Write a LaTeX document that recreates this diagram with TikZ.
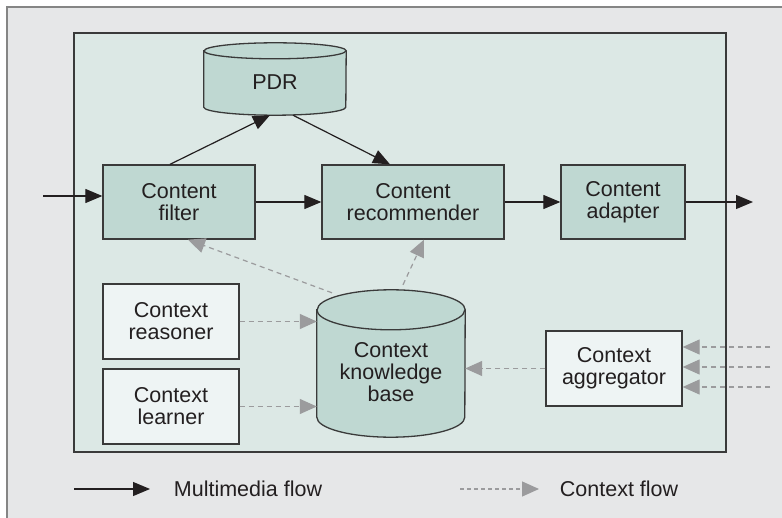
\documentclass[tikz,border=0pt]{standalone}
\usepackage{fontspec}
\setmainfont{Liberation Sans}
\usepackage{tikz}
\usetikzlibrary{arrows.meta,positioning}
\definecolor{grisFond}{HTML}{E6E7E8}
\definecolor{grisCadre}{HTML}{858585}
\definecolor{vertPanneau}{HTML}{DCE8E5}
\definecolor{vertBoite}{HTML}{BFD8D2}
\definecolor{blancBoite}{HTML}{EEF4F4}
\definecolor{bordSombre}{HTML}{3A3A3A}
\definecolor{noirTrait}{HTML}{231F20}
\definecolor{grisFleche}{HTML}{9B9B9D}

% cylindre dessine autour d'un noeud rectangulaire : #1 noeud, #2 demi-largeur, #3 rayon vertical
\newcommand{\cylindre}[3]{%
  \draw[fill=vertBoite, draw=bordSombre, line width=1.3pt]
    ([yshift=-#3]#1.north west) -- ([yshift=#3]#1.south west)
    arc[start angle=180, end angle=360, x radius=#2, y radius=#3]
    -- ([yshift=-#3]#1.north east)
    arc[start angle=0, end angle=180, x radius=#2, y radius=#3] -- cycle;
  \draw[bordSombre, line width=1.3pt] ([yshift=-#3]#1.north west)
    arc[start angle=180, end angle=360, x radius=#2, y radius=#3];
}

\tikzset{
  boite/.style={draw=bordSombre, line width=1.3pt, fill=vertBoite, align=center,
                inner sep=0pt, minimum height=74pt, text=noirTrait},
  boiteCtx/.style={boite, fill=blancBoite, minimum width=136pt, minimum height=75pt},
  base/.style={inner sep=0pt},
  texteBase/.style={align=center, text=noirTrait, inner sep=0pt},
  flux/.style={-{Triangle[length=17pt,width=14pt]}, line width=1.2pt, draw=noirTrait},
  fluxCtx/.style={-{Triangle[length=17pt,width=15pt]}, line width=1.2pt, draw=grisFleche,
                  dash pattern=on 5pt off 4pt}
}

\begin{document}
\begin{tikzpicture}[x=1pt, y=-1pt, font=\fontsize{21.5}{22}\selectfont]

\useasboundingbox (0,0) rectangle (782,518);
\clip (0,0) rectangle (782,518);

% fond et panneau
\draw[fill=grisFond, draw=grisCadre, line width=2pt] (7,7) rectangle (800,540);
\draw[fill=vertPanneau, draw=bordSombre, line width=1.5pt] (74,33) rectangle (726,452);

% chaine multimedia
\node[base, minimum width=142pt, minimum height=72pt] (pdr) at (275,79) {};
\cylindre{pdr}{71pt}{8pt}
\node[texteBase, yshift=-3pt] at (pdr.center) {PDR};
\node[boite, minimum width=152pt] (filtre) at (179,202) {Content\\filter};
\node[boite, minimum width=182pt] (recom) at (413,202) {Content\\recommender};
\node[boite, minimum width=124pt] (adapt) at (623,202) {Content\\adapter};

% contexte
\node[boiteCtx] (raison) at (171,321.5) {Context\\reasoner};
\node[boiteCtx] (appr) at (171,406.5) {Context\\learner};
\node[base, minimum width=148pt, minimum height=147pt] (kb) at (391,363.5) {};
\cylindre{kb}{74pt}{20pt}
\node[texteBase, yshift=-9pt] at (kb.center) {Context\\knowledge\\base};
\node[boiteCtx] (agreg) at (614,368.5) {Context\\aggregator};

\coordinate (entree) at (43,196);
\coordinate (sortie) at (753,203);
\coordinate (bord) at (770,0);

\draw[flux] (entree) -- (entree -| filtre.west);
\draw[flux] (filtre) -- (recom);
\draw[flux] (recom) -- (adapt);
\draw[flux] (adapt.east) -- (adapt.east -| sortie);
\draw[flux] ([xshift=-9pt]filtre.north) -- ([xshift=-5pt]pdr.south);
\draw[flux] ([xshift=18pt]pdr.south) -- ([xshift=-23pt]recom.north);

\draw[fluxCtx] (raison.east) -- (raison.east -| kb.west);
\draw[fluxCtx] (appr.east) -- (appr.east -| kb.west);
\draw[fluxCtx] (agreg.west) -- (agreg.west -| kb.east);
\draw[fluxCtx] ([shift={(-59pt,-3pt)}]kb.north) -- ([xshift=9pt]filtre.south);
\draw[fluxCtx] ([shift={(12pt,5pt)}]kb.north) -- ([xshift=11pt]recom.south);
\foreach \dy in {21.5,1.5,-18.5}
  \draw[fluxCtx] ([yshift=\dy pt]agreg.east -| bord) -- ([yshift=\dy pt]agreg.east);

% legende
\coordinate (legA) at (74,489);
\coordinate (legB) at (460,489);
\draw[flux] (legA) -- ++(76,0) node[right=20pt, text=noirTrait] (legMM) {Multimedia flow};
\draw[fluxCtx, dash pattern=on 4pt off 3pt] (legB) -- ++(79,0) node[right=17pt, text=noirTrait] (legCtx) {Context flow};

\end{tikzpicture}
\end{document}
